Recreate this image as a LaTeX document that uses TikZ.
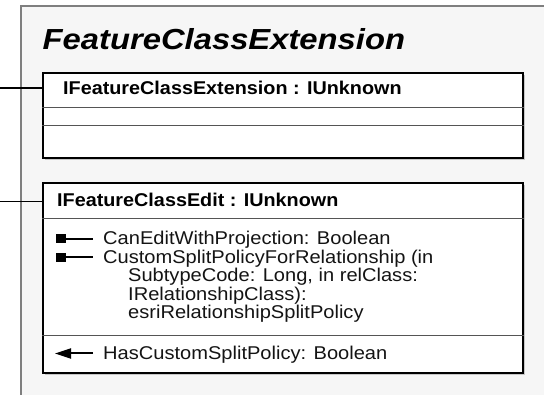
\documentclass[tikz,border=0pt]{standalone}
\usepackage{fontspec}
\setmainfont{Liberation Sans}
\usepackage{graphicx}
\usetikzlibrary{arrows.meta,shadows}

\definecolor{panelfill}{HTML}{F6F6F6}
\definecolor{panelline}{HTML}{7F7F7F}
\definecolor{divline}{HTML}{555555}

% horizontally widened text
\newcommand{\widetext}[2]{\scalebox{#1}[1]{#2}}

\tikzset{
  panel/.style={fill=panelfill},
  panelborder/.style={draw=panelline, line width=1.6pt},
  umlbox/.style={draw=black, fill=white, line width=2.2pt, inner sep=0pt,
    minimum width=480pt, anchor=north west,
    drop shadow={shadow xshift=1.6pt, shadow yshift=-1.6pt, fill=black!22, opacity=1}},
  divider/.style={draw=divline, line width=1pt},
  conn/.style={draw=black, line width=1.5pt},
  titletext/.style={anchor=base west, inner sep=0pt, font=\fontsize{29}{32}\selectfont\bfseries\itshape},
  headtext/.style={anchor=base west, inner sep=0pt, font=\fontsize{18.5}{21}\selectfont\bfseries},
  membertext/.style={anchor=base west, inner sep=0pt, font=\fontsize{18.5}{21}\selectfont, text=black!92},
  propsq/.style={fill=black, inner sep=0pt, minimum width=10pt, minimum height=9pt},
  iconline/.style={draw=black, line width=2pt},
}

\begin{document}
\begin{tikzpicture}[x=1pt,y=-1pt]
  \useasboundingbox (0,0) rectangle (544,395);

  % class panel
  \fill[panel] (21,6) rectangle (544,395);
  \draw[panelborder] (21,395) -- (21,6) -- (544,6);

  \node[titletext] (title) at (42.5,49.5) {\widetext{1.13}{FeatureClassExtension}};

  % interface IFeatureClassExtension
  \node[umlbox, minimum height=85pt] (b1) at (42,72) {};
  \draw[divider] ([yshift=-36pt]b1.north west) -- ([yshift=-36pt]b1.north east);
  \draw[divider] ([yshift=-54pt]b1.north west) -- ([yshift=-54pt]b1.north east);
  \node[headtext] (h1) at (63,94.5) {\widetext{1.07}{IFeatureClassExtension : IUnknown}};

  % interface IFeatureClassEdit
  \node[umlbox, minimum height=190pt] (b2) at (42,182) {};
  \draw[divider] ([yshift=-37pt]b2.north west) -- ([yshift=-37pt]b2.north east);
  \draw[divider] ([yshift=-153.5pt]b2.north west) -- ([yshift=-153.5pt]b2.north east);
  \node[headtext] (h2) at (57,207) {\widetext{1.07}{IFeatureClassEdit : IUnknown}};

  % lollipop connectors
  \coordinate (e1) at (0,88);
  \coordinate (e2) at (0,201.5);
  \draw[conn] (e1) -- (b1.west |- e1);
  \draw[conn] (e2) -- (b2.west |- e2);

  % members
  \node[membertext] (m1) at (103,245) {\widetext{1.085}{CanEditWithProjection: Boolean}};
  \node[membertext] (m2) at (103,263.5) {\widetext{1.085}{CustomSplitPolicyForRelationship (in}};
  \node[membertext] (m3) at (128,282) {\widetext{1.085}{SubtypeCode: Long, in relClass:}};
  \node[membertext] (m4) at (128,300.5) {\widetext{1.085}{IRelationshipClass):}};
  \node[membertext] (m5) at (128,319) {\widetext{1.085}{esriRelationshipSplitPolicy}};
  \node[membertext] (m6) at (103,359.5) {\widetext{1.085}{HasCustomSplitPolicy: Boolean}};

  % property icons
  \node[propsq] (s1) at (60.5,239) {};
  \coordinate (s1e) at (93,239);
  \draw[iconline] (s1.center) -- (s1e);
  \node[propsq] (s2) at (60.5,257.5) {};
  \coordinate (s2e) at (93,257.5);
  \draw[iconline] (s2.center) -- (s2e);
  \coordinate (a3s) at (93,353.5);
  \coordinate (a3e) at (55,353.5);
  \draw[iconline, -{Triangle[length=16pt,width=10pt]}] (a3s) -- (a3e);
\end{tikzpicture}
\end{document}
